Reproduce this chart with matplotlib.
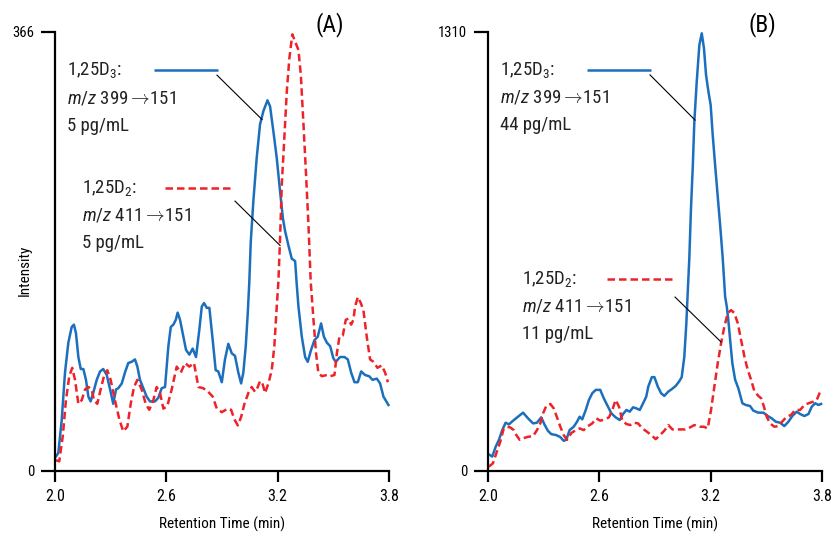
import matplotlib
matplotlib.use('Agg')
import matplotlib.pyplot as plt
from matplotlib import font_manager

# pick a condensed font if one is there
def pick_font(names):
    for n in names:
        try:
            font_manager.findfont(n, fallback_to_default=False)
            return n
        except Exception:
            pass
    return 'DejaVu Sans'

FONT = pick_font(['Liberation Sans Narrow', 'Roboto Condensed', 'Roboto', 'Liberation Sans'])
plt.rcParams['font.family'] = [FONT, 'DejaVu Sans']
plt.rcParams['mathtext.fontset'] = 'custom'
plt.rcParams['mathtext.rm'] = FONT
plt.rcParams['mathtext.it'] = FONT + ':italic'
plt.rcParams['mathtext.bf'] = FONT + ':bold'

BLUE = '#1b6fbd'
RED = '#ee2229'

# ---- panel A, 5 pg/mL each ----
a_d3_t = [2.005, 2.018, 2.036, 2.054, 2.072, 2.090, 2.102, 2.113, 2.126, 2.139, 2.153, 2.167, 2.180, 2.192,
          2.206, 2.225, 2.243, 2.260, 2.279, 2.297, 2.314, 2.329, 2.341, 2.360, 2.377, 2.395, 2.413, 2.431,
          2.444, 2.458, 2.476, 2.494, 2.512, 2.539, 2.557, 2.575, 2.593, 2.611, 2.624, 2.638, 2.651, 2.661,
          2.674, 2.688, 2.706, 2.724, 2.742, 2.760, 2.778, 2.791, 2.803, 2.818, 2.832, 2.850, 2.866, 2.880,
          2.899, 2.916, 2.934, 2.953, 2.970, 2.988, 3.003, 3.015, 3.028, 3.039, 3.047, 3.055, 3.069, 3.087,
          3.105, 3.123, 3.145, 3.159, 3.177, 3.195, 3.213, 3.228, 3.240, 3.258, 3.276, 3.294, 3.303, 3.312,
          3.330, 3.348, 3.362, 3.380, 3.398, 3.416, 3.434, 3.449, 3.465, 3.483, 3.500, 3.513, 3.536, 3.560,
          3.578, 3.596, 3.614, 3.632, 3.650, 3.671, 3.693, 3.711, 3.734, 3.752, 3.770, 3.797]
a_d3_i = [12, 15, 42, 82, 107, 120, 122, 115, 95, 85, 85, 76, 62, 58,
          65, 76, 83, 85, 80, 68, 56, 68, 69, 73, 82, 90, 91, 93,
          87, 76, 69, 62, 58, 58, 61, 69, 70, 104, 120, 122, 126, 132,
          126, 115, 101, 97, 102, 95, 118, 137, 140, 136, 136, 109, 84, 83,
          74, 93, 106, 98, 96, 82, 73, 82, 104, 132, 157, 191, 225, 261,
          289, 300, 309, 304, 283, 261, 233, 211, 200, 188, 177, 175, 155, 137,
          112, 95, 91, 101, 109, 112, 123, 112, 107, 104, 94, 91, 95, 95,
          93, 82, 74, 74, 83, 80, 79, 76, 77, 73, 62, 55]

a_d2_t = [2.005, 2.023, 2.042, 2.059, 2.077, 2.093, 2.108, 2.126, 2.144, 2.162, 2.180, 2.198, 2.210, 2.228,
          2.246, 2.264, 2.282, 2.300, 2.323, 2.347, 2.368, 2.390, 2.408, 2.426, 2.444, 2.467, 2.489, 2.508,
          2.530, 2.548, 2.566, 2.584, 2.605, 2.629, 2.656, 2.678, 2.701, 2.724, 2.749, 2.773, 2.799, 2.826,
          2.850, 2.872, 2.899, 2.931, 2.949, 2.967, 2.985, 3.003, 3.021, 3.042, 3.060, 3.078, 3.093, 3.105,
          3.118, 3.132, 3.150, 3.168, 3.182, 3.195, 3.204, 3.213, 3.222, 3.235, 3.249, 3.263, 3.279, 3.294,
          3.312, 3.325, 3.339, 3.353, 3.366, 3.378, 3.393, 3.407, 3.419, 3.438, 3.465, 3.483, 3.506, 3.519,
          3.533, 3.551, 3.567, 3.581, 3.596, 3.608, 3.617, 3.632, 3.648, 3.662, 3.680, 3.698, 3.716, 3.738,
          3.761, 3.779, 3.794]
a_d2_i = [9, 8, 29, 59, 79, 86, 76, 56, 59, 68, 70, 68, 59, 56,
          68, 79, 84, 76, 59, 43, 33, 37, 56, 70, 76, 68, 56, 51,
          59, 70, 65, 52, 54, 68, 87, 82, 90, 87, 90, 70, 69, 66,
          62, 52, 49, 52, 51, 43, 38, 45, 56, 65, 70, 66, 70, 75,
          73, 65, 73, 84, 104, 137, 158, 194, 238, 275, 316, 344, 364, 358,
          351, 330, 289, 247, 205, 158, 126, 98, 82, 79, 80, 79, 80, 98,
          112, 113, 126, 127, 122, 126, 137, 145, 140, 134, 112, 93, 91, 86,
          88, 82, 74]

# ---- panel B, 44 / 11 pg/mL ----
b_d3_t = [2.009, 2.023, 2.042, 2.059, 2.077, 2.095, 2.113, 2.135, 2.162, 2.189, 2.216, 2.243, 2.264, 2.287,
          2.306, 2.323, 2.341, 2.368, 2.390, 2.408, 2.422, 2.440, 2.462, 2.480, 2.494, 2.508, 2.527, 2.544,
          2.562, 2.581, 2.605, 2.624, 2.642, 2.665, 2.688, 2.710, 2.728, 2.746, 2.764, 2.782, 2.799, 2.818,
          2.836, 2.853, 2.864, 2.883, 2.897, 2.915, 2.933, 2.950, 2.972, 2.990, 3.012, 3.030, 3.044, 3.058,
          3.069, 3.077, 3.085, 3.094, 3.104, 3.112, 3.125, 3.139, 3.152, 3.164, 3.175, 3.188, 3.200, 3.211,
          3.224, 3.236, 3.251, 3.265, 3.278, 3.287, 3.295, 3.305, 3.317, 3.332, 3.349, 3.371, 3.389, 3.412,
          3.430, 3.457, 3.484, 3.508, 3.529, 3.551, 3.574, 3.597, 3.619, 3.640, 3.664, 3.682, 3.705, 3.727,
          3.745, 3.763, 3.781, 3.795]
b_d3_i = [48, 43, 73, 93, 122, 144, 139, 150, 162, 174, 157, 142, 144, 160,
          137, 120, 110, 107, 101, 90, 93, 122, 132, 147, 162, 154, 182, 212,
          232, 242, 242, 217, 197, 172, 160, 152, 170, 182, 177, 190, 187, 182,
          202, 222, 252, 280, 280, 252, 232, 224, 237, 244, 254, 267, 280, 341,
          441, 540, 635, 784, 913, 1042, 1162, 1271, 1306, 1261, 1182, 1132, 1092, 1003,
          913, 833, 734, 635, 520, 490, 451, 391, 321, 272, 247, 202, 197, 194,
          180, 174, 174, 164, 157, 147, 144, 134, 147, 164, 177, 170, 164, 170,
          192, 202, 197, 200]

b_d2_t = [2.005, 2.027, 2.045, 2.066, 2.085, 2.102, 2.120, 2.139, 2.153, 2.171, 2.192, 2.216, 2.243, 2.264,
          2.282, 2.297, 2.314, 2.336, 2.354, 2.372, 2.390, 2.408, 2.426, 2.449, 2.473, 2.494, 2.516, 2.539,
          2.562, 2.584, 2.605, 2.629, 2.652, 2.670, 2.688, 2.706, 2.724, 2.746, 2.767, 2.785, 2.809, 2.832,
          2.857, 2.880, 2.904, 2.927, 2.950, 2.972, 2.994, 3.026, 3.062, 3.089, 3.112, 3.143, 3.164, 3.184,
          3.202, 3.220, 3.238, 3.256, 3.274, 3.292, 3.310, 3.328, 3.346, 3.364, 3.382, 3.400, 3.418, 3.436,
          3.457, 3.472, 3.486, 3.502, 3.520, 3.543, 3.565, 3.585, 3.610, 3.633, 3.655, 3.682, 3.705, 3.727,
          3.754, 3.772, 3.790]
b_d2_i = [13, 23, 53, 87, 127, 132, 130, 122, 107, 93, 98, 102, 104, 122,
          142, 172, 194, 200, 187, 160, 132, 107, 93, 113, 122, 127, 122, 134,
          142, 157, 150, 154, 160, 182, 212, 192, 150, 140, 137, 144, 142, 127,
          117, 107, 95, 107, 120, 137, 124, 124, 124, 130, 137, 132, 132, 127,
          182, 252, 321, 381, 431, 471, 480, 471, 441, 391, 341, 301, 272, 237,
          224, 217, 194, 162, 142, 132, 134, 147, 162, 167, 182, 182, 197, 202,
          207, 212, 237]

x_ticks = [2.0, 2.6, 3.2, 3.8]
x_tick_labels = ['2.0', '2.6', '3.2', '3.8']
a_ymax = 366
b_ymax = 1310

ARROW = r'$\boldsymbol{\rightarrow}\!$'
# legend text for each block: (name, transition, concentration)
a_labels = [('1,25D$_3$:', '$m/z$ 399' + ARROW + '151', '5 pg/mL'),
            ('1,25D$_2$:', '$m/z$ 411' + ARROW + '151', '5 pg/mL')]
b_labels = [('1,25D$_3$:', '$m/z$ 399' + ARROW + '151', '44 pg/mL'),
            ('1,25D$_2$:', '$m/z$ 411' + ARROW + '151', '11 pg/mL')]

fig = plt.figure(figsize=(8.33, 5.39), dpi=100)
axA = fig.add_axes([0.0660, 0.1262, 0.4010, 0.8145])
axB = fig.add_axes([0.5858, 0.1262, 0.4010, 0.8145])


def style_axis(ax, ymax):
    ax.set_xlim(2.0, 3.8)
    ax.set_ylim(0, ymax)
    ax.spines['top'].set_visible(False)
    ax.spines['right'].set_visible(False)
    ax.spines['left'].set_linewidth(1.6)
    ax.spines['bottom'].set_linewidth(1.6)
    ax.set_xticks(x_ticks)
    ax.set_xticklabels(x_tick_labels)
    ax.set_yticks([0, ymax])
    ax.set_yticklabels(['0', str(ymax)])
    ax.tick_params(axis='x', direction='out', length=8, width=1.6, labelsize=11.5, pad=5)
    ax.tick_params(axis='y', direction='out', length=10, width=1.6, labelsize=10.5, pad=5)
    ax.set_xlabel('Retention Time (min)', fontsize=11)
    ax.xaxis.set_label_coords(0.5, -0.105)


def draw_block(ax, ymax, lines, x0, y0, seg, lead, color, ls):
    # three lines of text, a short legend segment and a thin leader line
    fs = 13.5
    step = 0.063 * ymax
    for k, s in enumerate(lines):
        ax.text(x0, y0 - k * step, s, fontsize=fs, ha='left', va='center', color='#222222')
    ax.plot(seg, [y0, y0], color=color, lw=1.8, ls=ls, dashes=(3, 1.6) if ls == '--' else (None, None),
            solid_capstyle='butt')
    ax.plot(lead[0], lead[1], color='black', lw=0.8)


style_axis(axA, a_ymax)
style_axis(axB, b_ymax)

axA.plot(a_d3_t, a_d3_i, color=BLUE, lw=1.8, clip_on=False)
axA.plot(a_d2_t, a_d2_i, color=RED, lw=1.8, ls='--', dashes=(3, 1.6), clip_on=False)
axB.plot(b_d3_t, b_d3_i, color=BLUE, lw=1.8, clip_on=False)
axB.plot(b_d2_t, b_d2_i, color=RED, lw=1.8, ls='--', dashes=(3, 1.6), clip_on=False)

draw_block(axA, a_ymax, a_labels[0], 2.065, 334, [2.534, 2.879],
           ([2.873, 3.116], [330, 293]), BLUE, '-')
draw_block(axA, a_ymax, a_labels[1], 2.146, 236, [2.593, 2.943],
           ([2.970, 3.213], [225, 188]), RED, '--')
draw_block(axB, b_ymax, b_labels[0], 2.065, 1197, [2.534, 2.879],
           ([2.873, 3.116], [1182, 1047]), BLUE, '-')
draw_block(axB, b_ymax, b_labels[1], 2.183, 573, [2.642, 2.997],
           ([3.008, 3.256], [519, 385]), RED, '--')

fig.text(25 / 833, 1 - 270 / 539, 'Intensity', rotation=90, fontsize=11, ha='center', va='center')
fig.text(330 / 833, 1 - 25 / 539, '(A)', fontsize=17, ha='center', va='center')
fig.text(762 / 833, 1 - 25 / 539, '(B)', fontsize=17, ha='center', va='center')

fig.savefig('out.png', dpi=100)
